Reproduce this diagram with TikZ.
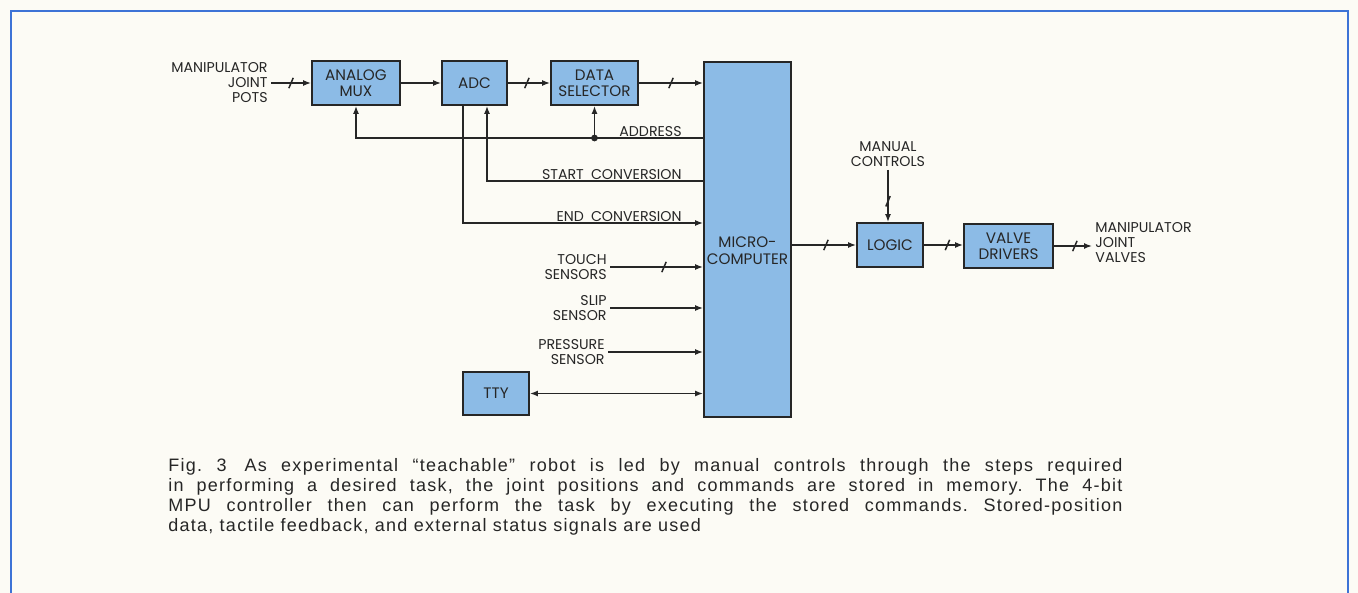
\documentclass[tikz,border=0pt]{standalone}
\usepackage{fontspec}
\setmainfont{Liberation Sans}
\newfontfamily\blockfont{Poppins}
\newfontfamily\capfont[LetterSpace=7]{Liberation Sans}
\usetikzlibrary{positioning,arrows.meta}

\definecolor{paper}{HTML}{FCFBF5}
\definecolor{boxblue}{HTML}{8CBBE6}
\definecolor{frameblue}{HTML}{3D73D6}
\definecolor{ink}{HTML}{262626}

\tikzset{
  blk/.style={draw=ink, line width=0.9pt, fill=boxblue, text=ink, align=center,
    inner sep=0pt, font=\blockfont\fontsize{7.6}{8.2}\selectfont},
  lbl/.style={text=ink, inner sep=1.5pt, font=\blockfont\fontsize{7.1}{7.5}\selectfont},
  sig/.style={draw=ink, line width=0.75pt},
  bus/.pic={\draw[ink, line width=0.75pt, arrows=-] (-1.1pt,-2.6pt) -- (1.1pt,2.6pt);}
}

\begin{document}
\frenchspacing
\begin{tikzpicture}[x=0.5pt, y=-0.5pt, >={Latex[length=4pt,width=3pt]}]
  \useasboundingbox (0,0) rectangle (1358,593);
  \fill[paper] (0,0) rectangle (1358,593);
  \draw[frameblue, line width=1.1pt] (11,594) -- (11,11) -- (1348,11) -- (1348,594);

  % blocks
  \node[blk, minimum width=44pt, minimum height=22pt] (mux) at (356,83) {ANALOG\\MUX};
  \node[blk, minimum width=32.5pt, minimum height=22pt] (adc) at (474.5,83) {ADC};
  \node[blk, minimum width=43.5pt, minimum height=22pt] (dsel) at (594.5,83) {DATA\\SELECTOR};
  \node[blk, minimum width=43.5pt, minimum height=177.5pt, text height=24.5pt, text depth=0pt]
    (micro) at (747.5,239.5) {MICRO-\\COMPUTER};
  \node[blk, minimum width=33pt, minimum height=21.5pt] (tty) at (496,393.5) {TTY};
  \node[blk, minimum width=33pt, minimum height=22pt] (logic) at (890,245) {LOGIC};
  \node[blk, minimum width=44.5pt, minimum height=22pt] (valve) at (1008.5,246) {VALVE\\DRIVERS};

  % labels
  \node[lbl, align=right, anchor=east] (pots) at (271,83) {MANIPULATOR\\JOINT\\POTS};
  \node[lbl, align=right, anchor=south east] (adrl) at (685,140) {ADDRESS};
  \node[lbl, align=right, anchor=south east] (stcl) at (685,183) {START\enspace CONVERSION};
  \node[lbl, align=right, anchor=south east] (eocl) at (685,225) {END\enspace CONVERSION};
  \node[lbl, align=right, anchor=east] (touch) at (610,267) {TOUCH\\SENSORS};
  \node[lbl, align=right, anchor=east] (slip) at (610,308) {SLIP\\SENSOR};
  \node[lbl, align=right, anchor=east] (press) at (608,352) {PRESSURE\\SENSOR};
  \node[lbl, align=center, anchor=south] (manl) at (888,170) {MANUAL\\CONTROLS};
  \node[lbl, align=left, anchor=west] (outl) at (1092,243) {MANIPULATOR\\JOINT\\VALVES};

  \coordinate (adrdot) at (594.5,138);
  \coordinate (stc) at (487,181);
  \coordinate (eoc) at (463,223);

  % data path
  \draw[sig,->] (pots.east) -- pic[pos=.5]{bus} (mux.west);
  \draw[sig,->] (mux) -- (adc);
  \draw[sig,->] (adc) -- pic[pos=.45]{bus} (dsel);
  \draw[sig,->] (dsel.east) -- pic[pos=.5]{bus} (dsel.east -| micro.west);

  % control lines
  \draw[sig,->] (adrdot -| micro.west) -| (mux.south);
  \draw[sig,->] (adrdot) -- (dsel.south);
  \fill[ink] (adrdot) circle (1.7pt);
  \draw[sig,->] (stc -| micro.west) -| (stc |- adc.south);
  \draw[sig,->] (eoc |- adc.south) -- (eoc) -- (eoc -| micro.west);

  % sensors and tty
  \draw[sig,->] (touch.east) -- pic[pos=.58]{bus} (touch.east -| micro.west);
  \draw[sig,->] (slip.east) -- (slip.east -| micro.west);
  \draw[sig,->] (press.east) -- (press.east -| micro.west);
  \draw[sig,<->] (tty.east) -- (tty.east -| micro.west);

  % output side
  \draw[sig,->] (micro.east |- logic) -- pic[pos=.53]{bus} (logic.west);
  \draw[sig,->] (manl.south) -- pic[pos=.6]{bus} (manl.south |- logic.north);
  \draw[sig,->] (logic.east) -- pic[pos=.6]{bus} (logic.east -| valve.west);
  \draw[sig,->] (valve.east) -- pic[pos=.55]{bus} (valve.east -| outl.west);

  % caption
  \node[anchor=north west, text width=477pt, align=justify, inner sep=0pt, text=ink,
    font=\capfont\fontsize{9}{10}\selectfont] (cap) at (168,458)
    {Fig. 3\quad As experimental “teachable” robot is led by manual controls through the steps required\linebreak
     in performing a desired task, the joint positions and commands are stored in memory. The 4-bit\linebreak
     MPU controller then can perform the task by executing the stored commands. Stored-position\linebreak
     data, tactile feedback, and external status signals are used};
\end{tikzpicture}
\end{document}
